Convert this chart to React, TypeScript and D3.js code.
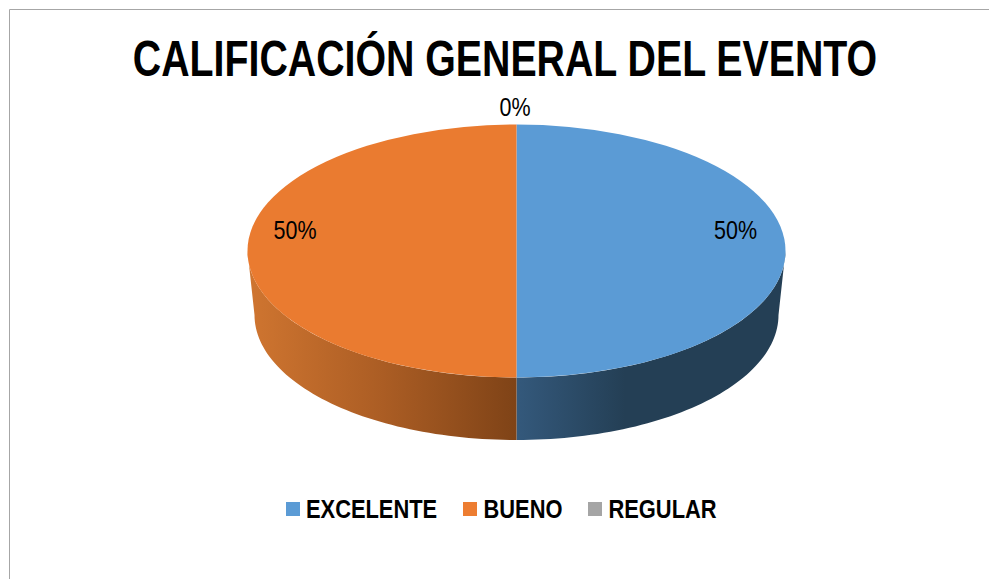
import React from "react";
import * as d3 from "d3";

const title = "CALIFICACIÓN GENERAL DEL EVENTO";
const categories = ["EXCELENTE", "BUENO", "REGULAR"];
const shares = [50, 50, 0];
const colors = ["#5b9bd5", "#ea7b30", "#a5a5a5"];
const legendColors = ["#5b9bd5", "#ed7d31", "#a5a5a5"];
const labelPos: [number, number][] = [[735.5, 230], [295, 230], [515, 107]];
const legendSwatchX = [286, 463, 588];
const legendTextX = [306, 483.5, 608.5];

const W = 989, H = 579;
const cx = 516.5, cy = 251, rx = 269, ry = 126.5;
const bcy = 315, brx = 262, bry = 125;
const font = "'Liberation Sans', Arial, sans-serif";
const titleSqueeze = 0.786, labelSqueeze = 0.86, legendSqueeze = 0.875;

const pie = d3.pie<number>().sort(null).startAngle(0).endAngle(2 * Math.PI);
const arcs = pie(shares);
const unitArc = d3.arc<d3.PieArcDatum<number>>().innerRadius(0).outerRadius(1);
const line = d3.line<[number, number]>();

function wall(a0: number, a1: number) {
  // only the front half of the ellipse (angles PI/2..3PI/2) is visible
  const s = Math.max(a0, Math.PI / 2), e = Math.min(a1, (3 * Math.PI) / 2);
  if (e <= s) return null;
  const ts = d3.range(0, 61).map((i) => s + ((e - s) * i) / 60);
  const top = ts.map((t) => [cx + rx * Math.sin(t), cy - ry * Math.cos(t)] as [number, number]);
  const bottom = ts.map((t) => [cx + brx * Math.sin(t), bcy - bry * Math.cos(t)] as [number, number]).reverse();
  return line([...top, ...bottom]) + "Z";
}

const sideFill = ["url(#sideBlue)", "url(#sideOrange)", "#6e6e6e"];

export default function App() {
  return (
    <svg
      width={W}
      height={H}
      viewBox={`0 0 ${W} ${H}`}
      style={{ position: "absolute", left: 0, top: 0, background: "#fff" }}
    >
      <defs>
        <linearGradient id="sideBlue" gradientUnits="userSpaceOnUse" x1={516} x2={625} y1={0} y2={0}>
          <stop offset="0" stopColor="#34597c" />
          <stop offset="1" stopColor="#243f55" />
        </linearGradient>
        <linearGradient id="sideOrange" gradientUnits="userSpaceOnUse" x1={250} x2={516} y1={0} y2={0}>
          <stop offset="0" stopColor="#cf7530" />
          <stop offset="0.5" stopColor="#ab5d24" />
          <stop offset="1" stopColor="#7f4317" />
        </linearGradient>
      </defs>
      <path d={`M9.5,${H}V9.5H${W}`} fill="none" stroke="#a6a6a6" strokeWidth={1} />
      <text
        transform={`translate(505,76) scale(${titleSqueeze},1)`}
        textAnchor="middle"
        fontFamily={font}
        fontWeight="bold"
        fontSize={50}
        fill="#000"
      >
        {title}
      </text>
      {arcs.map((a, i) => {
        const d = wall(a.startAngle, a.endAngle);
        return d ? <path key={i} d={d} fill={sideFill[i]} /> : null;
      })}
      <g transform={`translate(${cx},${cy}) scale(${rx},${ry})`}>
        {arcs.map((a, i) => (
          <path key={i} d={unitArc(a) || ""} fill={colors[i]} />
        ))}
      </g>
      {arcs.map((a, i) => (
        <text
          key={i}
          transform={`translate(${labelPos[i][0]},${labelPos[i][1]}) scale(${labelSqueeze},1)`}
          dy="0.35em"
          textAnchor="middle"
          fontFamily={font}
          fontSize={25}
          fill="#000"
        >
          {a.data}%
        </text>
      ))}
      {categories.map((c, i) => (
        <g key={c}>
          <rect x={legendSwatchX[i]} y={502} width={14} height={14} fill={legendColors[i]} />
          <text
            transform={`translate(${legendTextX[i]},518) scale(${legendSqueeze},1)`}
            fontFamily={font}
            fontWeight="bold"
            fontSize={25}
            fill="#000"
          >
            {c}
          </text>
        </g>
      ))}
    </svg>
  );
}
